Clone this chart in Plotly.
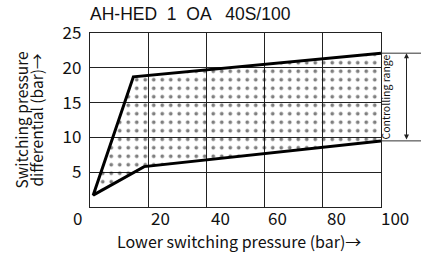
import plotly.graph_objects as go

# Data
title_text = "AH-HED  1  OA   40S/100"
lower_pressure = [100, 14.9, 1.1, 18.6, 100]       # bar
differential = [22.1, 18.7, 1.7, 5.8, 9.5]         # bar
range_top = 22.1
range_bottom = 9.5
x_gridvals = [20, 40, 60, 80]
x_ticklabels = ["0", "20", "40", "60", "80", "100"]
x_label_pos = [-4.3, 24.1, 44.7, 64.5, 84.6, 104.8]
y_ticks = [5, 10, 15, 20, 25]

W, H = 421, 255
PL, PR, PT, PB = 90, 381, 33, 206.7   # plot area in page pixels
ML, MR, MT, MB = PL, W - PR, PT, H - PB
PW, PH = PR - PL, PB - PT
def xp(px):   # page px -> paper x
    return (px - PL) / PW

SANS = "Noto Sans CJK JP"
INK = "#111"

fig = go.Figure()
fig.add_trace(go.Scatter(
    x=lower_pressure, y=differential, mode="lines",
    fill="toself", fillcolor="rgba(0,0,0,0)",
    fillpattern=dict(shape=".", size=8.5, solidity=0.15, fgcolor="black",
                     bgcolor="rgba(0,0,0,0)", fillmode="overlay"),
    line=dict(color="black", width=3), hoverinfo="skip", showlegend=False,
))

axis_line = dict(showline=True, linecolor="#222", linewidth=1.4, mirror=True)
fig.update_layout(
    width=W, height=H, margin=dict(l=ML, r=MR, t=MT, b=MB),
    paper_bgcolor="white", plot_bgcolor="white",
    title=dict(text=title_text, font=dict(family="Liberation Sans", size=17.5, color=INK),
               xref="paper", x=0, xanchor="left",
               yref="container", y=1 - 13.5 / H, yanchor="middle"),
    xaxis=dict(range=[0, 100], tickvals=x_gridvals, showticklabels=False,
               showgrid=True, gridcolor="#222", gridwidth=1.4, zeroline=False, ticks="", **axis_line),
    yaxis=dict(range=[0, 25], tickvals=y_ticks, showgrid=True, gridcolor="#222", gridwidth=1.4,
               zeroline=False, ticks="", tickfont=dict(family=SANS, size=17, color=INK),
               ticklabelstandoff=4, **axis_line),
)

# x tick labels (offset from the grid lines as in the original drawing)
for pos, lab in zip(x_label_pos, x_ticklabels):
    fig.add_annotation(text=lab, xref="paper", yref="paper", x=pos / 100.0, y=0,
                       yshift=-(217.5 - PB), xanchor="center", yanchor="middle",
                       showarrow=False, font=dict(family=SANS, size=17, color=INK))

# x-axis title
fig.add_annotation(text="Lower switching pressure (bar)→", xref="paper", yref="paper",
                   x=xp(239), y=0, yshift=-(241 - PB), xanchor="center", yanchor="middle",
                   showarrow=False, font=dict(family=SANS, size=16, color=INK))

# y-axis title (two lines)
for txt, cx in (("Switching pressure", 20.5), ("differential (bar)→", 35.5)):
    fig.add_annotation(text=txt, textangle=-90, xref="paper", yref="paper", x=xp(cx), y=0.5,
                       xanchor="center", yanchor="middle", showarrow=False,
                       font=dict(family=SANS, size=15.5, color=INK))

# controlling range marks
for v in (range_top, range_bottom):
    fig.add_shape(type="line", xref="paper", yref="y", x0=xp(382), x1=xp(421), y0=v, y1=v,
                  line=dict(color="#333", width=1))
fig.add_annotation(xref="paper", yref="y", x=xp(406.5), y=range_top,
                   axref="pixel", ayref="y", ax=0, ay=range_bottom,
                   showarrow=True, arrowside="end+start", arrowhead=2, arrowsize=1,
                   arrowwidth=1, arrowcolor="#222", text="", standoff=0, startstandoff=0)
fig.add_annotation(text="Controlling range", textangle=-90, xref="paper", yref="y",
                   x=xp(395), y=(range_top + range_bottom) / 2, showarrow=False,
                   font=dict(family=SANS, size=10.5, color=INK))

fig.write_html("out.html", config={"displayModeBar": False},
               post_script="document.body.style.margin='0';")
